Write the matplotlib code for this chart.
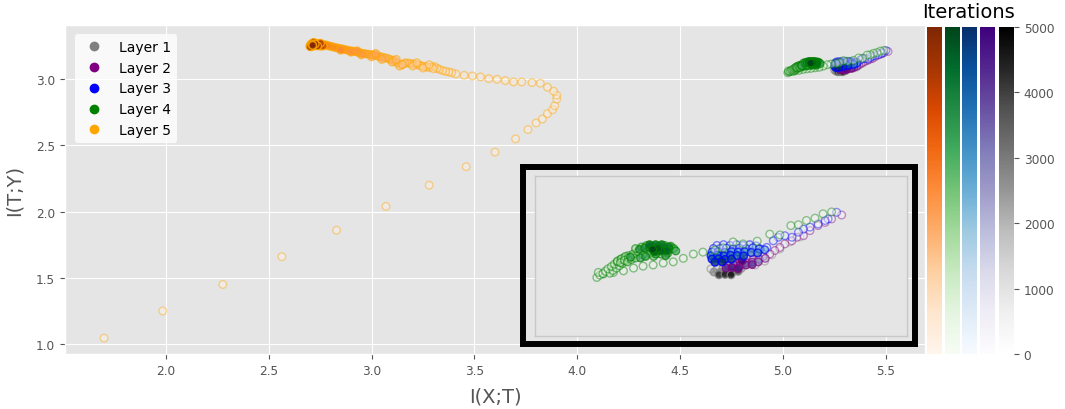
import numpy as np
import matplotlib
matplotlib.use("Agg")
import matplotlib.pyplot as plt
from matplotlib.lines import Line2D
from matplotlib.patches import Rectangle
from matplotlib.cm import ScalarMappable
from matplotlib.colors import Normalize

plt.style.use('ggplot')
plt.rcParams['font.family'] = ['DejaVu Sans']

# ---------------- data (x = I(X;T), y = I(T;Y), iteration) ----------------
layer_names = ["Layer 1", "Layer 2", "Layer 3", "Layer 4", "Layer 5"]
layer_colors = ["gray", "purple", "blue", "green", "orange"]
layer_cmaps = ["Greys", "Purples", "Blues", "Greens", "Oranges"]

# Layer 1
l1_x = [5.427, 5.407, 5.387, 5.371, 5.357, 5.338,
        5.250, 5.262, 5.274, 5.286, 5.298, 5.310, 5.256, 5.268, 5.280, 5.292, 5.304,
        5.266, 5.278, 5.290, 5.292]
l1_y = [3.154, 3.141, 3.123, 3.108, 3.092, 3.082,
        3.072, 3.071, 3.073, 3.072, 3.071, 3.073, 3.064, 3.063, 3.065, 3.064, 3.066,
        3.057, 3.058, 3.057, 3.076]
l1_it = [0, 150, 300, 450, 600, 800,
         1000, 1300, 1600, 1900, 2200, 2500, 2800, 3100, 3400, 3700, 4000,
         4300, 4600, 4800, 5000]

# Layer 2
l2_x = [5.510, 5.490, 5.477, 5.463, 5.447, 5.434, 5.421, 5.411, 5.397, 5.387, 5.377, 5.367,
        5.330, 5.342, 5.354, 5.310, 5.322, 5.334, 5.346, 5.358,
        5.296, 5.308, 5.320, 5.332, 5.344, 5.284, 5.296, 5.308, 5.320, 5.332,
        5.280, 5.292, 5.304, 5.312]
l2_y = [3.210, 3.200, 3.191, 3.183, 3.170, 3.157, 3.153, 3.144, 3.136, 3.127, 3.119, 3.110,
        3.105, 3.106, 3.104, 3.097, 3.098, 3.096, 3.097, 3.099,
        3.089, 3.090, 3.088, 3.089, 3.090, 3.081, 3.082, 3.080, 3.082, 3.083,
        3.074, 3.075, 3.073, 3.093]
l2_it = [0, 50, 100, 150, 200, 250, 300, 350, 400, 450, 500, 600,
         700, 900, 1100, 1300, 1500, 1700, 1900, 2100,
         2300, 2500, 2700, 2900, 3100, 3300, 3500, 3700, 3900, 4100,
         4300, 4500, 4700, 5000]

# Layer 3
l3_x = [5.500, 5.483, 5.477, 5.463, 5.447, 5.434, 5.424, 5.411, 5.397, 5.384, 5.374, 5.361, 5.348,
        5.262, 5.275, 5.288, 5.301, 5.314, 5.327, 5.340,
        5.255, 5.268, 5.281, 5.294, 5.307, 5.320, 5.333, 5.346, 5.357,
        5.252, 5.265, 5.278, 5.291, 5.304, 5.317, 5.330, 5.343,
        5.250, 5.263, 5.276, 5.289, 5.302, 5.315,
        5.252, 5.265, 5.278, 5.291, 5.258, 5.272]
l3_y = [3.217, 3.200, 3.196, 3.187, 3.179, 3.174, 3.166, 3.153, 3.157, 3.153, 3.144, 3.127, 3.123,
        3.132, 3.134, 3.132, 3.134, 3.132, 3.134, 3.131,
        3.124, 3.124, 3.125, 3.123, 3.125, 3.124, 3.126, 3.123, 3.121,
        3.115, 3.116, 3.114, 3.116, 3.115, 3.116, 3.114, 3.113,
        3.106, 3.107, 3.105, 3.107, 3.106, 3.105,
        3.097, 3.098, 3.096, 3.097, 3.089, 3.090]
l3_it = [0, 50, 100, 150, 200, 250, 300, 350, 400, 450, 500, 550, 600,
         700, 820, 940, 1060, 1180, 1300, 1420,
         1540, 1660, 1780, 1900, 2020, 2140, 2260, 2380, 2500,
         2620, 2740, 2860, 2980, 3100, 3220, 3340, 3460,
         3580, 3700, 3820, 3940, 4060, 4180,
         4300, 4420, 4540, 4660, 4800, 5000]

# Layer 4
l4_x = [5.490, 5.473, 5.457, 5.440, 5.424, 5.409, 5.387, 5.367, 5.342, 5.314, 5.294, 5.274, 5.258,
        5.234, 5.215, 5.195, 5.175, 5.155, 5.135, 5.115, 5.096, 5.076, 5.056, 5.036, 5.023,
        5.029, 5.026, 5.035, 5.040, 5.049, 5.045, 5.055, 5.052, 5.062, 5.058, 5.068, 5.064,
        5.074, 5.070, 5.080, 5.078, 5.088, 5.086,
        5.064, 5.072, 5.080, 5.070, 5.078, 5.086, 5.094, 5.084, 5.092, 5.100,
        5.095, 5.105, 5.100, 5.112, 5.115, 5.124, 5.122, 5.134, 5.130, 5.136,
        5.142, 5.146, 5.150, 5.158, 5.156, 5.164, 5.170, 5.168, 5.176, 5.180,
        5.110, 5.090, 5.120, 5.140, 5.160, 5.108, 5.118, 5.128, 5.138, 5.148,
        5.158, 5.166, 5.152, 5.140, 5.128, 5.162, 5.150, 5.138, 5.144, 5.134]
l4_y = [3.218, 3.213, 3.202, 3.196, 3.185, 3.183, 3.159, 3.161, 3.143, 3.136, 3.141, 3.126, 3.120,
        3.115, 3.110, 3.099, 3.090, 3.087, 3.082, 3.079, 3.074, 3.067, 3.063, 3.059, 3.050,
        3.056, 3.063, 3.060, 3.066, 3.061, 3.072, 3.068, 3.078, 3.074, 3.084, 3.080, 3.090,
        3.086, 3.096, 3.092, 3.101, 3.098, 3.106,
        3.092, 3.098, 3.104, 3.088, 3.094, 3.100, 3.104, 3.090, 3.096, 3.100,
        3.110, 3.116, 3.124, 3.128, 3.108, 3.120, 3.132, 3.130, 3.112, 3.104,
        3.118, 3.130, 3.110, 3.132, 3.120, 3.112, 3.130, 3.122, 3.124, 3.118,
        3.100, 3.102, 3.104, 3.110, 3.106, 3.122, 3.126, 3.126, 3.124, 3.126,
        3.126, 3.128, 3.134, 3.134, 3.134, 3.118, 3.118, 3.116, 3.124, 3.122]
l4_it = [0, 20, 40, 60, 80, 100, 120, 140, 160, 180, 200, 220, 240,
         260, 280, 300, 320, 340, 360, 380, 400, 420, 440, 460, 480,
         500, 550, 600, 650, 700, 750, 800, 850, 900, 950, 1000, 1050,
         1100, 1150, 1200, 1250, 1300, 1350,
         1380, 1420, 1460, 1500, 1540, 1580, 1620, 1660, 1700, 1740,
         1780, 1850, 1920, 1990, 2060, 2130, 2200, 2270, 2340, 2410,
         2480, 2550, 2620, 2690, 2760, 2830, 2900, 2970, 3040, 3110,
         3200, 3290, 3380, 3470, 3560, 3650, 3740, 3830, 3920, 4010,
         4100, 4190, 4280, 4370, 4460, 4550, 4640, 4730, 4820, 5000]

# Layer 5
l5_x = [1.700, 1.985, 2.277, 2.564, 2.830, 3.070, 3.280, 3.460, 3.600, 3.700, 3.760, 3.800,
        3.830, 3.855, 3.880, 3.890, 3.900, 3.900, 3.885, 3.855, 3.820, 3.780, 3.730,
        3.690, 3.650, 3.610, 3.570, 3.530, 3.490, 3.450, 3.410,
        3.390, 3.375, 3.360, 3.345, 3.330, 3.318, 3.305, 3.292, 3.280, 3.268,
        3.256, 3.244, 3.232, 3.220, 3.208, 3.196, 3.184, 3.172, 3.160, 3.148,
        3.136, 3.124, 3.112, 3.100, 3.088, 3.076, 3.064, 3.052, 3.040, 3.028,
        3.016, 3.004, 2.992, 2.980, 2.968, 2.956, 2.944, 2.932, 2.920, 2.908,
        2.896, 2.884, 2.872, 2.860, 2.848, 2.836, 2.824, 2.812, 2.800, 2.790,
        3.300, 3.250, 3.200, 3.150, 3.100, 3.050, 3.000, 2.950, 2.900, 2.850,
        3.280, 3.220, 3.120, 3.020, 2.930,
        2.780, 2.770, 2.760, 2.750, 2.740, 2.730, 2.720, 2.710, 2.700, 2.705,
        2.715, 2.725, 2.735, 2.745, 2.755, 2.765, 2.712, 2.722, 2.732, 2.742,
        2.752, 2.708, 2.718, 2.728, 2.738, 2.702, 2.716, 2.726, 2.710, 2.714]
l5_y = [1.045, 1.250, 1.450, 1.660, 1.860, 2.040, 2.200, 2.340, 2.450, 2.550, 2.620, 2.670,
        2.700, 2.740, 2.770, 2.800, 2.850, 2.880, 2.910, 2.940, 2.970, 2.975, 2.980,
        2.980, 2.990, 3.000, 3.005, 3.018, 3.025, 3.030, 3.040,
        3.050, 3.055, 3.060, 3.066, 3.075, 3.083, 3.096, 3.094, 3.090, 3.093,
        3.098, 3.101, 3.106, 3.110, 3.114, 3.117, 3.120, 3.124, 3.122, 3.108,
        3.100, 3.125, 3.138, 3.145, 3.151, 3.158, 3.163, 3.167, 3.171, 3.177,
        3.181, 3.184, 3.188, 3.190, 3.193, 3.196, 3.200, 3.205, 3.209, 3.213,
        3.216, 3.219, 3.224, 3.229, 3.232, 3.236, 3.240, 3.245, 3.249, 3.253,
        3.080, 3.085, 3.100, 3.112, 3.130, 3.150, 3.170, 3.185, 3.205, 3.220,
        3.110, 3.125, 3.150, 3.195, 3.215,
        3.258, 3.262, 3.258, 3.266, 3.262, 3.268, 3.264, 3.258, 3.252, 3.262,
        3.272, 3.275, 3.270, 3.256, 3.250, 3.252, 3.248, 3.254, 3.258, 3.268,
        3.272, 3.268, 3.278, 3.262, 3.252, 3.245, 3.258, 3.266, 3.262, 3.256]
l5_it = [0, 20, 40, 60, 80, 100, 120, 140, 160, 180, 200, 220,
         240, 260, 280, 300, 320, 340, 360, 380, 400, 420, 440,
         460, 480, 500, 520, 540, 560, 580, 600,
         650, 700, 740, 790, 830, 880, 920, 970, 1010, 1060,
         1100, 1150, 1190, 1240, 1280, 1330, 1370, 1420, 1460, 1510,
         1550, 1600, 1640, 1690, 1730, 1780, 1820, 1870, 1910, 1960,
         2000, 2050, 2090, 2140, 2180, 2230, 2270, 2320, 2360, 2410,
         2450, 2500, 2540, 2590, 2630, 2680, 2720, 2770, 2810, 2860,
         900, 1100, 1300, 1500, 1700, 1900, 2100, 2300, 2450, 2650,
         1000, 1250, 1650, 2050, 2380,
         2950, 3020, 3090, 3160, 3230, 3300, 3370, 3440, 3510, 3580,
         3650, 3720, 3790, 3860, 3930, 4000, 4070, 4140, 4210, 4280,
         4350, 4420, 4490, 4560, 4630, 4700, 4780, 4860, 4930, 5000]

xs = [l1_x, l2_x, l3_x, l4_x, l5_x]
ys = [l1_y, l2_y, l3_y, l4_y, l5_y]
its = [l1_it, l2_it, l3_it, l4_it, l5_it]

x_ticks = [2.0, 2.5, 3.0, 3.5, 4.0, 4.5, 5.0, 5.5]
y_ticks = [1.0, 1.5, 2.0, 2.5, 3.0]
cbar_order = ["Oranges", "Greens", "Blues", "Purples", "Greys"]
cbar_ticks = [0, 1000, 2000, 3000, 4000, 5000]

# ---------------- figure ----------------
W, H = 1065, 410
fig = plt.figure(figsize=(W / 100, H / 100), dpi=100)


def frac(x0, y0, x1, y1):
    return [x0 / W, 1 - y1 / H, (x1 - x0) / W, (y1 - y0) / H]


norm = Normalize(vmin=0, vmax=5000)


def draw_layers(a):
    for x, y, it, col, cm in zip(xs, ys, its, layer_colors, layer_cmaps):
        it = np.asarray(it, dtype=float)
        alphas = 0.4 + 0.45 * np.clip(it / 5000.0, 0, 1)
        a.scatter(x, y, c=it, cmap=cm, norm=norm, edgecolors=col,
                  s=30, linewidths=1.0, alpha=alphas, zorder=3)


ax = fig.add_axes(frac(65, 26, 925, 355))
draw_layers(ax)
ax.set_xlim(1.51, 5.69)
ax.set_ylim(0.925, 3.41)
ax.set_xticks(x_ticks)
ax.set_yticks(y_ticks)
ax.tick_params(labelsize=8.7, colors='#555555')
ax.set_xlabel("I(X;T)", fontsize=14, color='#555555', labelpad=7)
ax.set_ylabel("I(T;Y)", fontsize=14, color='#555555', labelpad=9)

handles = [Line2D([], [], marker='o', ls='', color=c, markersize=6, label=n)
           for n, c in zip(layer_names, layer_colors)]
ax.legend(handles=handles, loc='upper left', bbox_to_anchor=(10 / 860, 1 - 9 / 329),
          borderaxespad=0.0, fontsize=10,
          facecolor='white', framealpha=0.8, edgecolor='none')

# inset (zoom of the top-right clusters)
axi = fig.add_axes(frac(535, 177, 907, 337))
draw_layers(axi)
axi.set_xlim(4.90, 5.64)
axi.set_ylim(2.90, 3.31)
axi.set_xticks([])
axi.set_yticks([])
axi.grid(False)
for sp in axi.spines.values():
    sp.set_color('#C8C8C8')
    sp.set_linewidth(1.0)

# black frame around the inset
r = frac(523, 168, 915, 345)
fig.patches.append(Rectangle((r[0], r[1]), r[2], r[3], transform=fig.transFigure,
                             fill=False, edgecolor='black', linewidth=4.3, zorder=5))

# colorbars
cb_x = [927, 945, 962, 980, 999]
for i, (cx, cm) in enumerate(zip(cb_x, cbar_order)):
    cax = fig.add_axes(frac(cx, 28, cx + 15, 355))
    cb = fig.colorbar(ScalarMappable(norm=norm, cmap=cm), cax=cax)
    cb.outline.set_visible(False)
    if i < 4:
        cb.set_ticks([])
    else:
        cb.set_ticks(cbar_ticks)
        cax.tick_params(labelsize=8.7, colors='#555555')

fig.text(969 / W, 1 - 12 / H, "Iterations", ha='center', va='center', fontsize=14)

fig.savefig("out.png", dpi=100)
